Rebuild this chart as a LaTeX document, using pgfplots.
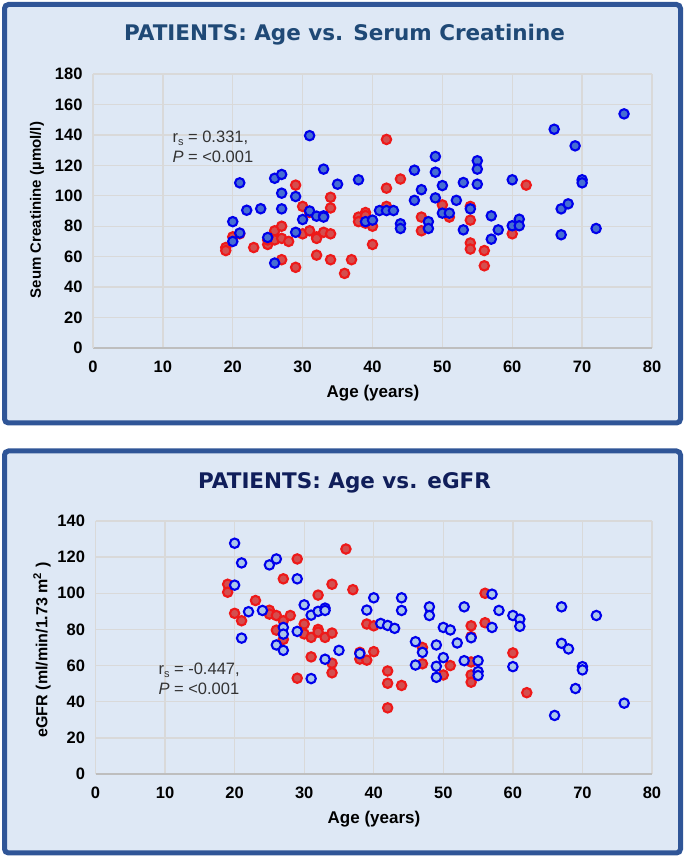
\documentclass[border=0pt]{standalone}
\usepackage{fontspec}
\setmainfont{Liberation Sans}
\newfontfamily\titlefont{DejaVu Sans}
\usepackage{pgfplots}
\usepackage{pgfplotstable}
\pgfplotsset{compat=1.18}

\definecolor{panelbg}{RGB}{222,232,245}
\definecolor{panelborder}{RGB}{47,85,151}
\definecolor{titleA}{RGB}{31,73,118}
\definecolor{titleB}{RGB}{16,30,90}
\definecolor{gridgray}{RGB}{217,217,217}
\definecolor{axisgray}{RGB}{190,190,190}
\definecolor{ptblue}{RGB}{0,0,235}
\definecolor{ptbluefillA}{RGB}{70,110,210}
\definecolor{ptbluefillB}{RGB}{170,198,235}
\definecolor{ptred}{RGB}{238,25,25}
\definecolor{ptredfill}{RGB}{212,78,78}

% serum creatinine, red group
\pgfplotstableread{
age scr
19 66
19 64
20 73
21 75
23 66
25 68
25 71
26 77
26 71
27 80
27 72
27 58
28 70
29 107
29 53
30 93
30 75
31 89
31 77
32 73
32 72
32 61
33 76
34 99
34 92
34 75
34 58
36 49
37 58
38 86
38 83
39 89
39 87
39 82
40 80
40 68
42 137
42 105
42 93
44 111
47 86
47 77
50 94
51 86
54 93
54 84
54 69
54 65
56 64
56 54
60 75
62 107
}\scrred

% serum creatinine, blue group
\pgfplotstableread{
age scr
20 83
20 70
21 108.5
21 75.5
22 90.5
24 91.5
25 72.6
26 111.5
26 55.8
27 114
27 101.7
27 91.4
29 99.5
29 76
30 84.4
31 139.5
31 90
32 86.6
33 117.5
33 86.8
33 86
35 107.6
38 110.5
39 83
40 84
41 90.3
42 90.3
43 90.3
44 81.6
44 78.5
46 116.8
46 97
47 104
48 83
48 78.5
49 125.8
49 115.5
49 98.6
50 106.7
50 88.6
51 88.6
52 97
53 108.7
53 77.6
54 91.4
55 123
55 117.5
55 107.6
57 86.8
57 71.5
58 77.6
60 110.5
60 80.3
61 84.6
61 80.3
66 143.7
67 91.4
67 74.4
68 94.7
69 132.8
70 110.5
70 108.5
72 78.5
76 153.8
}\scrblue

% eGFR, red group
\pgfplotstableread{
age egfr
19 105
19 100.6
20 88.9
21 84.8
23 96
25 90.6
25 88.5
26 87.7
26 79.6
27 108
27 84.8
27 74.5
28 87.7
29 119
29 53
30 83
30 77.5
31 75.6
31 64.8
32 99
32 80
32 78.5
33 75.6
34 105
34 78
34 61.3
34 56
36 124.5
37 102
38 63.6
38 67.3
39 83
39 63
40 82
40 67.7
42 57
42 50.2
42 36.6
44 49
47 70
47 61
50 54.8
51 60
54 82
54 76
54 62
54 54.8
54 50.8
56 100
56 83.7
60 67
62 45
}\egfrred

% eGFR, blue group
\pgfplotstableread{
age egfr
20 127.7
20 104.5
21 116.8
21 75.2
22 89.8
24 90.5
25 115.7
26 119
26 71.4
27 81.1
27 77.4
27 68.4
29 108
29 78.9
30 93.6
31 87.9
31 52.8
32 90
33 91.8
33 90.5
33 63.5
35 68.4
38 66.6
39 90.7
40 97.5
41 83.3
42 82.2
43 80.6
44 97.5
44 90.5
46 73.2
46 60.3
47 67.3
48 92.5
48 87.7
49 71.4
49 59.6
49 53.5
50 81.1
50 64.4
51 79.7
52 72.5
53 92.5
53 62.7
54 75.4
55 62.7
55 56.7
55 54.5
57 99.5
57 81.1
58 90.5
60 87.7
60 59.4
61 85.7
61 81.7
66 32.4
67 92.5
67 72.3
68 69.2
69 47.3
70 59.4
70 57.6
72 87.7
76 39.2
}\egfrblue

\pgfplotsset{
  panel/.style={
    scale only axis,
    xmin=0, xmax=80, xtick={0,10,...,80},
    ymin=0,
    grid=major,
    major grid style={gridgray, line width=1.3pt},
    axis x line*=bottom, axis y line*=left,
    x axis line style={-, axisgray, line width=2.5pt},
    y axis line style={-, gridgray, line width=1.3pt},
    major tick length=0pt,
    tick label style={font=\fontsize{16.5}{17}\selectfont\bfseries, text=black},
    /pgf/number format/assume math mode=true,
    yticklabel style={xshift=-7pt},
    xticklabel style={yshift=-9pt},
  },
  redpts/.style={only marks, mark=*, mark size=4.7pt,
    mark options={draw=ptred, fill=ptredfill, line width=2.1pt}},
  bluepts/.style={only marks, mark=*, mark size=4.7pt,
    mark options={draw=ptblue, fill=#1, line width=2.1pt}},
}

\begin{document}
\begin{tikzpicture}[x=1pt,y=1pt]
\useasboundingbox (0,0) rectangle (685,857);
% panel frames
\draw[rounded corners=4pt, line width=5pt, draw=panelborder, fill=panelbg] (4.5,434) rectangle (680.5,852.5);
\draw[rounded corners=4pt, line width=5pt, draw=panelborder, fill=panelbg] (4.5,4) rectangle (680.5,406);

% titles
\node[font=\titlefont\bfseries\fontsize{21.5}{26}\selectfont, text=titleA] at (344.5,822) {PATIENTS: Age vs. Serum Creatinine};
\node[font=\titlefont\bfseries\fontsize{21.5}{26}\selectfont, text=titleB] at (344.5,374) {PATIENTS: Age vs. eGFR};

% top: creatinine
\begin{axis}[panel, at={(93pt,509pt)}, anchor=south west,
    width=559pt, height=274pt, ymax=180, ytick={0,20,...,180}]
  \addplot[redpts] table[x=age, y=scr] {\scrred};
  \addplot[bluepts=ptbluefillA] table[x=age, y=scr] {\scrblue};
\end{axis}

% bottom: eGFR
\begin{axis}[panel, at={(95.5pt,83pt)}, anchor=south west,
    width=556.5pt, height=253pt, ymax=140, ytick={0,20,...,140}]
  \addplot[redpts] table[x=age, y=egfr] {\egfrred};
  \addplot[bluepts=ptbluefillB] table[x=age, y=egfr] {\egfrblue};
\end{axis}

% axis labels
\node[font=\bfseries\fontsize{17}{18}\selectfont] at (373,464) {Age (years)};
\node[font=\bfseries\fontsize{15}{18}\selectfont, rotate=90] at (37,647) {Seum Creatinine (µmol/l)};
\node[font=\bfseries\fontsize{17}{18}\selectfont] at (374,38) {Age (years)};
\node[font=\bfseries\fontsize{16}{18}\selectfont, rotate=90] at (42,207) {eGFR (ml/min/1.73 m\textsuperscript{2} )};

% correlation notes
\node[anchor=west, align=left, font=\fontsize{16.5}{20}\selectfont, text=black!80] at (169,710)
  {r\raisebox{-3pt}{\fontsize{11}{11}\selectfont s} = 0.331,\\\textit{P} = <0.001};
\node[anchor=west, align=left, font=\fontsize{16.5}{20}\selectfont, text=black!80] at (155,178)
  {r\raisebox{-3pt}{\fontsize{11}{11}\selectfont s} = -0.447,\\\textit{P} = <0.001};
\end{tikzpicture}
\end{document}
